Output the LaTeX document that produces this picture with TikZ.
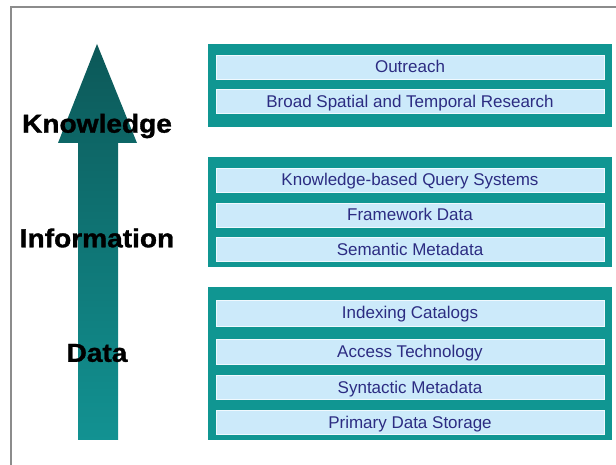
\documentclass[tikz,border=0pt]{standalone}
\usepackage{fontspec}
\setmainfont{Liberation Sans}
\newfontfamily\lblfont{Liberation Sans}[FakeBold=1.2]
\definecolor{teal1}{RGB}{16,150,146}
\definecolor{barfill}{RGB}{204,234,250}
\definecolor{bartext}{RGB}{44,44,130}
\definecolor{arrowtop}{RGB}{12,88,88}
\definecolor{arrowbot}{RGB}{18,146,146}
\definecolor{framegray}{RGB}{140,140,140}
\tikzset{
  grp/.style={draw=none, fill=teal1, inner sep=0pt, minimum width=404pt},
  bar/.style={draw=white!70!barfill, line width=0.8pt, fill=barfill, text=bartext, inner sep=0pt,
    minimum width=388pt, text height=12pt, text depth=0pt, font=\fontsize{17}{17}\selectfont},
  lbl/.style={text=black, inner sep=0pt, font=\lblfont\fontsize{26}{26}\selectfont\bfseries, xscale=1.08},
}
\begin{document}
\begin{tikzpicture}[x=1pt,y=1pt]
\useasboundingbox (0,0) rectangle (616,465);
\draw[framegray, line width=1.2pt] (11,0) -- (11,458) -- (616,458);
% arrow
\shade[top color=arrowtop, bottom color=arrowbot]
  (78,25) -- (78,322) -- (58,322) -- (97,421) -- (137,322) -- (118,322) -- (118,25) -- cycle;
% groups
\node[grp, minimum height=83pt] (g1) at (410,379.5) {};
\node[grp, minimum height=110pt] (g2) at (410,253) {};
\node[grp, minimum height=153pt] (g3) at (410,101.5) {};
% bars
\node[bar, minimum height=24pt] (b1) at (410,398) {Outreach};
\node[bar, minimum height=24pt] (b2) at (410,363.5) {Broad Spatial and Temporal Research};
\node[bar, minimum height=24pt] (b3) at (410,285) {Knowledge-based Query Systems};
\node[bar, minimum height=24pt] (b4) at (410,250) {Framework Data};
\node[bar, minimum height=24pt] (b5) at (410,215.5) {Semantic Metadata};
\node[bar, minimum height=26pt] (b6) at (410,152) {Indexing Catalogs};
\node[bar, minimum height=25pt] (b7) at (410,113.5) {Access Technology};
\node[bar, minimum height=24pt] (b8) at (410,77.5) {Syntactic Metadata};
\node[bar, minimum height=24pt] (b9) at (410,42.5) {Primary Data Storage};
% labels
\node[lbl] (kn) at (97,339) {Knowledge};
\node[lbl] (in) at (97,227) {Information};
\node[lbl] (da) at (97,112) {Data};
\end{tikzpicture}
\end{document}
